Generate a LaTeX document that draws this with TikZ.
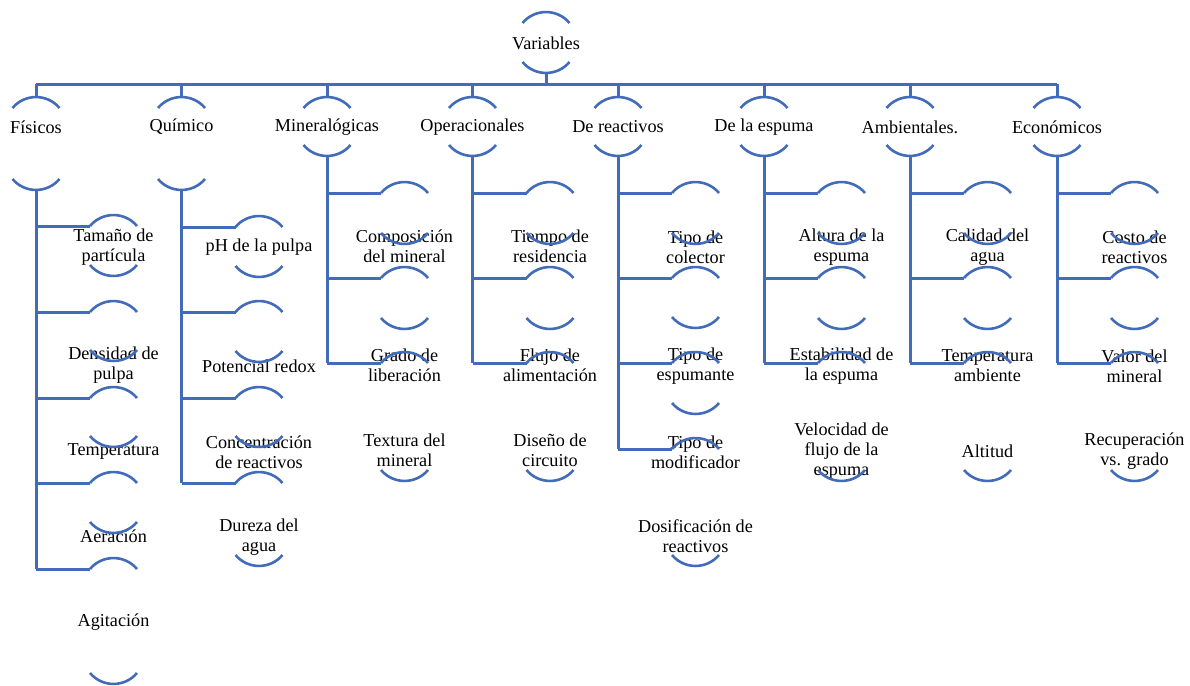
\documentclass[tikz,border=0pt]{standalone}
\usepackage{fontspec}
\setmainfont{Liberation Serif}
\definecolor{linec}{RGB}{66,108,185}
\tikzset{
  conn/.style={draw=linec,line width=3pt},
  arcline/.style={draw=linec,line width=2.6pt},
  lbl/.style={font=\fontsize{18.2}{20}\selectfont,align=center,inner sep=0pt}
}
% top arc (bulging up) centred at #1, ends at height #2
\newcommand\toparc[2]{\draw[arcline] (#1-23.5,#2) .. controls +(12.2,-14.6) and +(-12.2,-14.6) .. (#1+23.5,#2);}
% bottom arc (bulging down)
\newcommand\botarc[2]{\draw[arcline] (#1-23.5,#2) .. controls +(12.2,14.6) and +(-12.2,14.6) .. (#1+23.5,#2);}
% child: name, trunk x, top-arc y, bottom-arc y, text y, text
\newcommand\kid[6]{%
  \node[lbl] (#1) at (#2+77.5,#5) {#6};
  \coordinate (#1-a) at (#2+54,#3);
  \coordinate (#1-t) at (#2,#3);
  \toparc{#2+77.5}{#3}
  \botarc{#2+77.5}{#4}
  \draw[conn] (#1-t) -- (#1-a);
}
% header: name, x, bottom-arc y, text
\newcommand\head[4]{%
  \node[lbl] (#1) at (#2,127) {#4};
  \toparc{#2}{108}
  \botarc{#2}{#3}
  \coordinate (#1-top) at (#2,97);
  \coordinate (#1-bus) at (#2,84);
  \coordinate (#1-bot) at (#2,#3+11);
  \draw[conn] (#1-bus) -- (#1-top);
}
\begin{document}
\begin{tikzpicture}[x=1pt,y=-1pt]
\useasboundingbox (0,0) rectangle (1190,685);

% root
\node[lbl] (root) at (546,43) {Variables};
\toparc{546}{23}
\botarc{546}{62}
\coordinate (root-bot) at (546,73);
\coordinate (root-bus) at (546,84);

% headers
\head{h1}{36}{179}{Físicos}
\head{h2}{181.5}{179}{Químico}
\head{h3}{327}{145}{Mineralógicas}
\head{h4}{472.5}{145}{Operacionales}
\head{h5}{618}{145}{De reactivos}
\head{h6}{764}{145}{De la espuma}
\head{h7}{910}{145}{Ambientales.}
\head{h8}{1057}{145}{Económicos}

\draw[conn] (h1-bus) -- (h8-bus);
\draw[conn] (root-bot) -- (root-bus);

% Físicos
\kid{f1}{36}{226}{265}{247}{Tamaño de\\partícula}
\kid{f2}{36}{312}{350}{365}{Densidad de\\pulpa}
\kid{f3}{36}{398}{436}{451}{Temperatura}
\kid{f4}{36}{483}{522}{536}{Aeración}
\kid{f5}{36}{569}{673}{622}{Agitación}
\draw[conn] (h1-bot) -- (f5-t);

% Químico
\kid{q1}{181.5}{227}{266}{247}{pH de la pulpa}
\kid{q2}{181.5}{312}{351}{366}{Potencial redox}
\kid{q3}{181.5}{398}{436}{452}{Concentración\\de reactivos}
\kid{q4}{181.5}{483}{555}{537}{Dureza del\\agua}
\draw[conn] (h2-bot) -- (q4-t);

% Mineralógicas
\kid{m1}{327}{193}{233}{246}{Composición\\del mineral}
\kid{m2}{327}{278}{318}{365}{Grado de\\liberación}
\kid{m3}{327}{363}{470}{450}{Textura del\\mineral}
\draw[conn] (h3-bot) -- (m3-t);

% Operacionales
\kid{o1}{472.5}{193}{233}{246}{Tiempo de\\residencia}
\kid{o2}{472.5}{278}{318}{365}{Flujo de\\alimentación}
\kid{o3}{472.5}{363}{470}{450}{Diseño de\\circuito}
\draw[conn] (h4-bot) -- (o3-t);

% De reactivos
\kid{r1}{618}{193}{233}{247}{Tipo de\\colector}
\kid{r2}{618}{278}{317}{366}{Tipo de\\espumante}
\kid{r3}{618}{363}{403}{452}{Tipo de\\modificador}
\kid{r4}{618}{449}{555}{536}{Dosificación de\\reactivos}
\draw[conn] (h5-bot) -- (r4-t);

% De la espuma
\kid{e1}{764}{193}{233}{247}{Altura de la\\espuma}
\kid{e2}{764}{278}{318}{366}{Estabilidad de\\la espuma}
\kid{e3}{764}{363}{470}{451}{Velocidad de\\flujo de la\\espuma}
\draw[conn] (h6-bot) -- (e3-t);

% Ambientales
\kid{a1}{910}{193}{233}{247}{Calidad del\\agua}
\kid{a2}{910}{278}{318}{366}{Temperatura\\ambiente}
\kid{a3}{910}{363}{470}{451}{Altitud}
\draw[conn] (h7-bot) -- (a3-t);

% Económicos
\kid{c1}{1057}{193}{233}{247}{Costo de\\reactivos}
\kid{c2}{1057}{278}{318}{366}{Valor del\\mineral}
\kid{c3}{1057}{363}{470}{451}{Recuperación\\vs. grado}
\draw[conn] (h8-bot) -- (c3-t);
\end{tikzpicture}
\end{document}
